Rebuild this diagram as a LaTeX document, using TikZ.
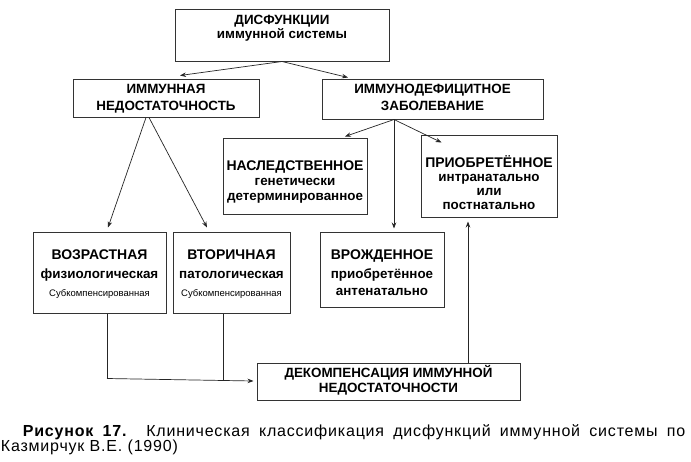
\documentclass[tikz,border=0pt]{standalone}
\usepackage{fontspec}
\setmainfont{Liberation Sans}
\newfontfamily\capfont[LetterSpace=5]{Liberation Sans}
\usetikzlibrary{arrows.meta}
\tikzset{
  box/.style={draw=black!80, line width=1pt, inner sep=0pt, fill=none},
  bt/.style={font=\fontsize{13.4}{14}\selectfont\bfseries, anchor=base, inner sep=0pt},
  bl/.style={font=\fontsize{14}{15}\selectfont\bfseries, anchor=base, inner sep=0pt},
  st/.style={font=\fontsize{9.5}{10}\selectfont, anchor=base, inner sep=0pt},
  arr/.style={draw=black!85, line width=0.7pt, -{Stealth[length=6pt,width=4.5pt]}},
  ln/.style={draw=black!85, line width=0.7pt},
  captxt/.style={font=\capfont\fontsize{16}{17}\selectfont, anchor=base west, inner sep=0pt},
}
\begin{document}
\begin{tikzpicture}[x=1pt,y=-1pt]
\useasboundingbox[fill=white] (0,0) rectangle (691,461);
% boxes
\node[box, minimum width=214pt, minimum height=52pt] (dys) at (282,35) {};
\node[box, minimum width=186pt, minimum height=38pt] (imm) at (166,98) {};
\node[box, minimum width=221pt, minimum height=40pt] (id) at (432.5,99) {};
\node[box, minimum width=144pt, minimum height=76pt] (nasl) at (295,176) {};
\node[box, minimum width=136pt, minimum height=82pt] (prio) at (489,176) {};
\node[box, minimum width=124pt, minimum height=75pt] (vrozh) at (382,269.5) {};
\node[box, minimum width=133pt, minimum height=81pt] (vozr) at (99.5,272.5) {};
\node[box, minimum width=117pt, minimum height=81pt] (vtor) at (231.5,272.5) {};
\node[box, minimum width=263pt, minimum height=37pt] (dek) at (388.5,381.5) {};
% texts
\node[bt] (dysA) at (282,24) {ДИСФУНКЦИИ};
\node[bt] (dysB) at (282,38) {иммунной системы};
\node[bt] (immA) at (166,93) {ИММУННАЯ};
\node[bt] (immB) at (166,110) {НЕДОСТАТОЧНОСТЬ};
\node[bt] (idA) at (432.5,93) {ИММУНОДЕФИЦИТНОЕ};
\node[bt] (idB) at (432.5,110) {ЗАБОЛЕВАНИЕ};
\node[bl] (naslA) at (295,170) {НАСЛЕДСТВЕННОЕ};
\node[bt] (naslB) at (295,185) {генетически};
\node[bt] (naslC) at (295,200) {детерминированное};
\node[bl] (prioA) at (489,167) {ПРИОБРЕТЁННОЕ};
\node[bt] (prioB) at (489,181) {интранатально};
\node[bt] (prioC) at (489,195) {или};
\node[bt] (prioD) at (489,209) {постнатально};
\node[bl] (vrozhA) at (382,259) {ВРОЖДЕННОЕ};
\node[bt] (vrozhB) at (382,278) {приобретённое};
\node[bt] (vrozhC) at (382,295) {антенатально};
\node[bl] (vozrA) at (99.5,259) {ВОЗРАСТНАЯ};
\node[bt] (vozrB) at (99.5,278) {физиологическая};
\node[st] (vozrC) at (99.5,296) {Субкомпенсированная};
\node[bl] (vtorA) at (231.5,259) {ВТОРИЧНАЯ};
\node[bt] (vtorB) at (231.5,278) {патологическая};
\node[st] (vtorC) at (231.5,296) {Субкомпенсированная};
\node[bt] (dekA) at (388.5,377) {ДЕКОМПЕНСАЦИЯ ИММУННОЙ};
\node[bt] (dekB) at (388.5,392) {НЕДОСТАТОЧНОСТИ};
% connectors
\draw[arr] (dys.south) -- ([xshift=14pt,yshift=3pt]imm.north);
\draw[arr] (dys.south) -- ([xshift=-84.5pt,yshift=1pt]id.north);
\draw[arr] ([xshift=-20pt]imm.south) -- ([xshift=8.5pt,yshift=4pt]vozr.north);
\draw[arr] ([xshift=-17pt]imm.south) -- ([xshift=-24.5pt,yshift=4pt]vtor.north);
\coordinate (idS) at ([xshift=-38.5pt]id.south);
\draw[arr] (idS) -- ([xshift=50pt,yshift=1pt]nasl.north);
\draw[arr] (idS) -- ([xshift=12pt,yshift=3pt]vrozh.north);
\draw[arr] (idS) -- ([xshift=21pt,yshift=-8pt]prio.north west);
\draw[arr] ([xshift=79.5pt]dek.north) -- ([xshift=-21pt,yshift=-4pt]prio.south);
\coordinate (j1) at (107,378.5);
\coordinate (j2) at (223,379.5);
\draw[ln] ([xshift=7.5pt]vozr.south) -- (j1);
\draw[ln] ([xshift=-8.5pt]vtor.south) -- (j2);
\draw[arr] (j1) -- ([xshift=-3pt,yshift=0.5pt]dek.west);
% caption
\node[captxt] (capA) at (22.7,436) {\makebox[662.3pt][s]{\textbf{Рисунок 17.} Клиническая классификация дисфункций иммунной системы по}};
\node[captxt] (capB) at (0.7,451) {Казмирчук В.Е. (1990)};
\end{tikzpicture}
\end{document}
